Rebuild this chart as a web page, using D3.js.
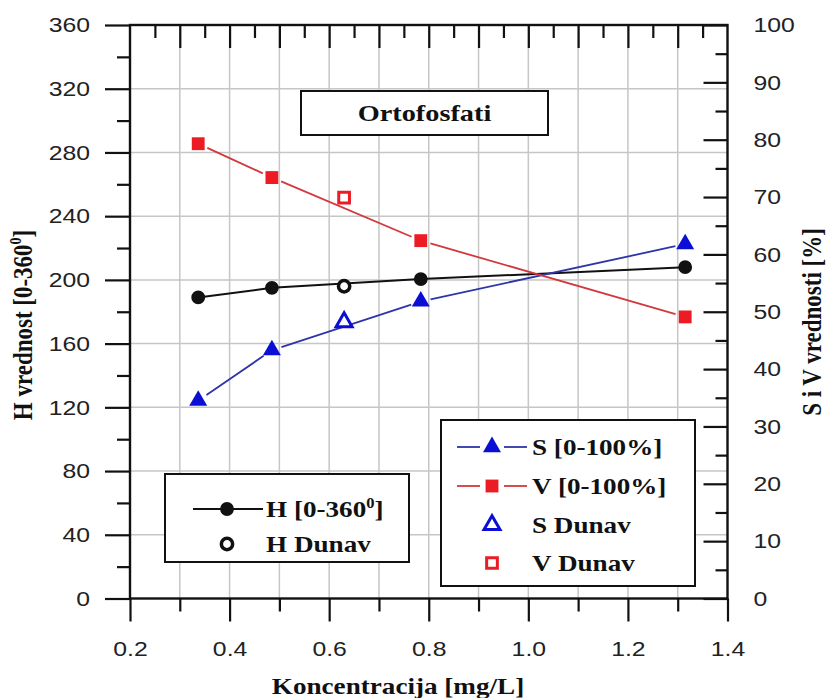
<!DOCTYPE html>
<html>
<head>
<meta charset="utf-8">
<script src="https://cdn.jsdelivr.net/npm/d3@7"></script>
<style>
  body { margin: 0; background: #fff; }
  svg { display: block; }
</style>
</head>
<body>
<div class="chart"></div>
<script>
// measured points, concentration [mg/L]
var conc = [0.337, 0.485, 0.784, 1.315];
var hValues = [189, 195, 200.5, 208];      // left axis, 0-360
var sValues = [34.5, 43.3, 51.8, 61.8];    // right axis, %
var vValues = [79.3, 73.4, 62.4, 49.1];    // right axis, %

// Dunav sample
var dunavConc = [0.63];
var hDunav = [196];
var sDunav = [48.2];
var vDunav = [69.9];

var xMajorTicks = [0.2, 0.4, 0.6, 0.8, 1.0, 1.2, 1.4];
var xMinorTicks = [0.3, 0.5, 0.7, 0.9, 1.1, 1.3];
var xTopMinor = [0.25, 0.35, 0.45, 0.55, 0.65, 0.75, 0.85, 0.95, 1.05, 1.15, 1.25, 1.35];
var hMajorTicks = [0, 40, 80, 120, 160, 200, 240, 280, 320, 360];
var hMinorTicks = [20, 60, 100, 140, 180, 220, 260, 300, 340];
var svMajorTicks = [0, 10, 20, 30, 40, 50, 60, 70, 80, 90, 100];
var svMinorTicks = [5, 15, 25, 35, 45, 55, 65, 75, 85, 95];

var chartTitle = 'Ortofosfati';
var xTitle = 'Koncentracija [mg/L]';
var yLeftTitle = 'H vrednost [0-360';
var yRightTitle = 'S i V vrednosti [%]';

var W = 828, H = 698;
var pLeft = 130, pRight = 727.5, pTop = 25, pBottom = 598.5;
var SX = 1.18; // the source picture is a little stretched sideways
var serif = '"Liberation Serif", "Times New Roman", serif';
var sans = '"Liberation Sans", Arial, sans-serif';

var red = '#ec1c24', redLine = '#d2383c';
var blue = '#0b0fd6', blueLine = '#2d35a8';

var svg = d3.select('div.chart').append('svg')
  .attr('width', W).attr('height', H);

var x = d3.scaleLinear().domain([0.2, 1.4]).range([pLeft, pRight]);
var yH = d3.scaleLinear().domain([0, 360]).range([pBottom, pTop]);
var ySV = d3.scaleLinear().domain([0, 100]).range([pBottom, pTop]);

// grid
var grid = svg.append('g').attr('stroke', '#c6c6c6').attr('stroke-width', 1.5);
grid.selectAll('line.v').data(x.ticks(12).filter(function (d) { return d > 0.21 && d < 1.39; }))
  .enter().append('line')
  .attr('x1', function (d) { return x(d); }).attr('x2', function (d) { return x(d); })
  .attr('y1', pTop).attr('y2', pBottom);
grid.selectAll('line.h').data(hMajorTicks.filter(function (d) { return d > 0 && d < 360; }))
  .enter().append('line')
  .attr('y1', function (d) { return yH(d); }).attr('y2', function (d) { return yH(d); })
  .attr('x1', pLeft).attr('x2', pRight);

// stretch a text element sideways around its own anchor
function stretch(t) {
  var tx = +t.attr('x') || 0, ty = +t.attr('y') || 0;
  t.attr('transform', 'translate(' + tx + ',' + ty + ') scale(' + SX + ',1)')
    .attr('x', 0).attr('y', 0);
}

function styleAxis(g) {
  g.select('.domain').remove();
  g.selectAll('line').attr('stroke', '#111').attr('stroke-width', 2.2);
  g.selectAll('text').attr('font-family', sans).attr('font-size', 21).attr('fill', '#222')
    .each(function () { stretch(d3.select(this)); });
}

svg.append('g').attr('transform', 'translate(0,' + pBottom + ')')
  .call(d3.axisBottom(x).tickValues(xMajorTicks).tickSize(23).tickSizeOuter(0).tickPadding(20)
    .tickFormat(d3.format('.1f')))
  .call(styleAxis);
svg.append('g').attr('transform', 'translate(0,' + pBottom + ')')
  .call(d3.axisBottom(x).tickValues(xMinorTicks).tickSize(13).tickSizeOuter(0).tickFormat(''))
  .call(styleAxis);
svg.append('g').attr('transform', 'translate(0,' + pTop + ')')
  .call(d3.axisTop(x).tickValues(xMinorTicks.concat([0.4, 0.6, 0.8, 1.0, 1.2])).tickSize(-23).tickSizeOuter(0).tickFormat(''))
  .call(styleAxis);
svg.append('g').attr('transform', 'translate(0,' + pTop + ')')
  .call(d3.axisTop(x).tickValues(xTopMinor).tickSize(-13).tickSizeOuter(0).tickFormat(''))
  .call(styleAxis);

svg.append('g').attr('transform', 'translate(' + pLeft + ',0)')
  .call(d3.axisLeft(yH).tickValues(hMajorTicks).tickSize(25).tickSizeOuter(0).tickPadding(15))
  .call(styleAxis);
svg.append('g').attr('transform', 'translate(' + pLeft + ',0)')
  .call(d3.axisLeft(yH).tickValues(hMinorTicks).tickSize(13).tickSizeOuter(0).tickFormat(''))
  .call(styleAxis);

svg.append('g').attr('transform', 'translate(' + pRight + ',0)')
  .call(d3.axisRight(ySV).tickValues(svMajorTicks).tickSize(-24).tickSizeOuter(0).tickPadding(26))
  .call(styleAxis);
svg.append('g').attr('transform', 'translate(' + pRight + ',0)')
  .call(d3.axisRight(ySV).tickValues(svMinorTicks).tickSize(-12).tickSizeOuter(0).tickFormat(''))
  .call(styleAxis);

// lines between symbols, with a small gap round each symbol (Origin style)
function gapped(g, xs, ys, yScale, gap, color, width) {
  for (var i = 0; i < xs.length - 1; i++) {
    var x1 = x(xs[i]), y1 = yScale(ys[i]), x2 = x(xs[i + 1]), y2 = yScale(ys[i + 1]);
    var len = Math.hypot(x2 - x1, y2 - y1), ux = (x2 - x1) / len, uy = (y2 - y1) / len;
    g.append('line')
      .attr('x1', x1 + ux * gap).attr('y1', y1 + uy * gap)
      .attr('x2', x2 - ux * gap).attr('y2', y2 - uy * gap)
      .attr('stroke', color).attr('stroke-width', width);
  }
}

var series = svg.append('g');
gapped(series, conc, hValues, yH, 0, '#111', 2);
gapped(series, conc, sValues, ySV, 10, blueLine, 1.8);
gapped(series, conc, vValues, ySV, 10, redLine, 1.8);

var circle = d3.symbol().type(d3.symbolCircle).size(150);
var square = d3.symbol().type(d3.symbolSquare).size(165);
var triangle = d3.symbol().type(d3.symbolTriangle).size(140);
var circleO = d3.symbol().type(d3.symbolCircle).size(100);
var squareO = d3.symbol().type(d3.symbolSquare).size(115);
var triangleO = d3.symbol().type(d3.symbolTriangle).size(110);

function marks(data, yScale, sym, fill, stroke, sw) {
  series.append('g').selectAll('path').data(data).enter().append('path')
    .attr('d', sym)
    .attr('transform', function (d) { return 'translate(' + x(d[0]) + ',' + yScale(d[1]) + ')'; })
    .attr('fill', fill).attr('stroke', stroke).attr('stroke-width', sw);
}
function pairs(xs, ys) { return xs.map(function (v, i) { return [v, ys[i]]; }); }

marks(pairs(conc, hValues), yH, circle, '#111', 'none', 0);
marks(pairs(conc, sValues), ySV, triangle, blue, 'none', 0);
marks(pairs(conc, vValues), ySV, square, red, 'none', 0);
marks(pairs(dunavConc, hDunav), yH, circleO, '#fff', '#111', 3.5);
marks(pairs(dunavConc, sDunav), ySV, triangleO, '#fff', blue, 3);
marks(pairs(dunavConc, vDunav), ySV, squareO, '#fff', red, 3);

// frame
svg.append('rect').attr('x', pLeft).attr('y', pTop)
  .attr('width', pRight - pLeft).attr('height', pBottom - pTop)
  .attr('fill', 'none').attr('stroke', '#111').attr('stroke-width', 2.4);

function label(g, txt, tx, ty, anchor, size) {
  var t = g.append('text').attr('x', tx).attr('y', ty)
    .attr('font-family', serif).attr('font-weight', 'bold').attr('font-size', size || 23)
    .attr('text-anchor', anchor || 'start').attr('fill', '#111').text(txt);
  stretch(t);
  return t;
}

// title box
var tb = svg.append('g');
tb.append('rect').attr('x', 301).attr('y', 91).attr('width', 247).attr('height', 44)
  .attr('fill', '#fff').attr('stroke', '#111').attr('stroke-width', 2);
label(tb, chartTitle, 424.5, 121, 'middle', 24);

// left legend
var lg = svg.append('g');
lg.append('rect').attr('x', 165).attr('y', 474).attr('width', 244).attr('height', 88)
  .attr('fill', '#fff').attr('stroke', '#111').attr('stroke-width', 2);
lg.append('line').attr('x1', 193).attr('x2', 263).attr('y1', 509).attr('y2', 509)
  .attr('stroke', '#111').attr('stroke-width', 2);
lg.append('path').attr('d', circle).attr('transform', 'translate(227,509)').attr('fill', '#111');
lg.append('path').attr('d', circleO).attr('transform', 'translate(227,544)')
  .attr('fill', '#fff').attr('stroke', '#111').attr('stroke-width', 3.5);
var hl = label(lg, 'H [0-360', 266, 517);
hl.append('tspan').attr('font-size', 14).attr('dy', -9).text('0');
hl.append('tspan').attr('dy', 9).text(']');
label(lg, 'H Dunav', 266, 552);

// right legend
var rg = svg.append('g');
rg.append('rect').attr('x', 441).attr('y', 420).attr('width', 254).attr('height', 166)
  .attr('fill', '#fff').attr('stroke', '#111').attr('stroke-width', 2);
var rows = [
  { y: 447, txt: 'S [0-100%]', line: blueLine, sym: triangle, fill: blue, stroke: 'none', sw: 0 },
  { y: 486, txt: 'V [0-100%]', line: redLine, sym: square, fill: red, stroke: 'none', sw: 0 },
  { y: 525, txt: 'S Dunav', line: null, sym: triangleO, fill: '#fff', stroke: blue, sw: 3 },
  { y: 563, txt: 'V Dunav', line: null, sym: squareO, fill: '#fff', stroke: red, sw: 3 }
];
rows.forEach(function (r) {
  if (r.line) {
    rg.append('line').attr('x1', 457).attr('x2', 480).attr('y1', r.y).attr('y2', r.y)
      .attr('stroke', r.line).attr('stroke-width', 1.8);
    rg.append('line').attr('x1', 504).attr('x2', 527).attr('y1', r.y).attr('y2', r.y)
      .attr('stroke', r.line).attr('stroke-width', 1.8);
  }
  rg.append('path').attr('d', r.sym).attr('transform', 'translate(492,' + r.y + ')')
    .attr('fill', r.fill).attr('stroke', r.stroke).attr('stroke-width', r.sw);
  label(rg, r.txt, 532, r.y + 8);
});

// axis titles
label(svg, xTitle, 398, 694, 'middle');

var yl = svg.append('text')
  .attr('transform', 'translate(32,325) scale(' + SX + ',1) rotate(-90)')
  .attr('font-family', serif).attr('font-weight', 'bold').attr('font-size', 23)
  .attr('text-anchor', 'middle').attr('fill', '#111').text(yLeftTitle);
yl.append('tspan').attr('font-size', 14).attr('dy', -9).text('0');
yl.append('tspan').attr('dy', 9).text(']');

svg.append('text')
  .attr('transform', 'translate(821,322) scale(' + SX + ',1) rotate(-90)')
  .attr('font-family', serif).attr('font-weight', 'bold').attr('font-size', 23)
  .attr('text-anchor', 'middle').attr('fill', '#111').text(yRightTitle);
</script>
</body>
</html>
